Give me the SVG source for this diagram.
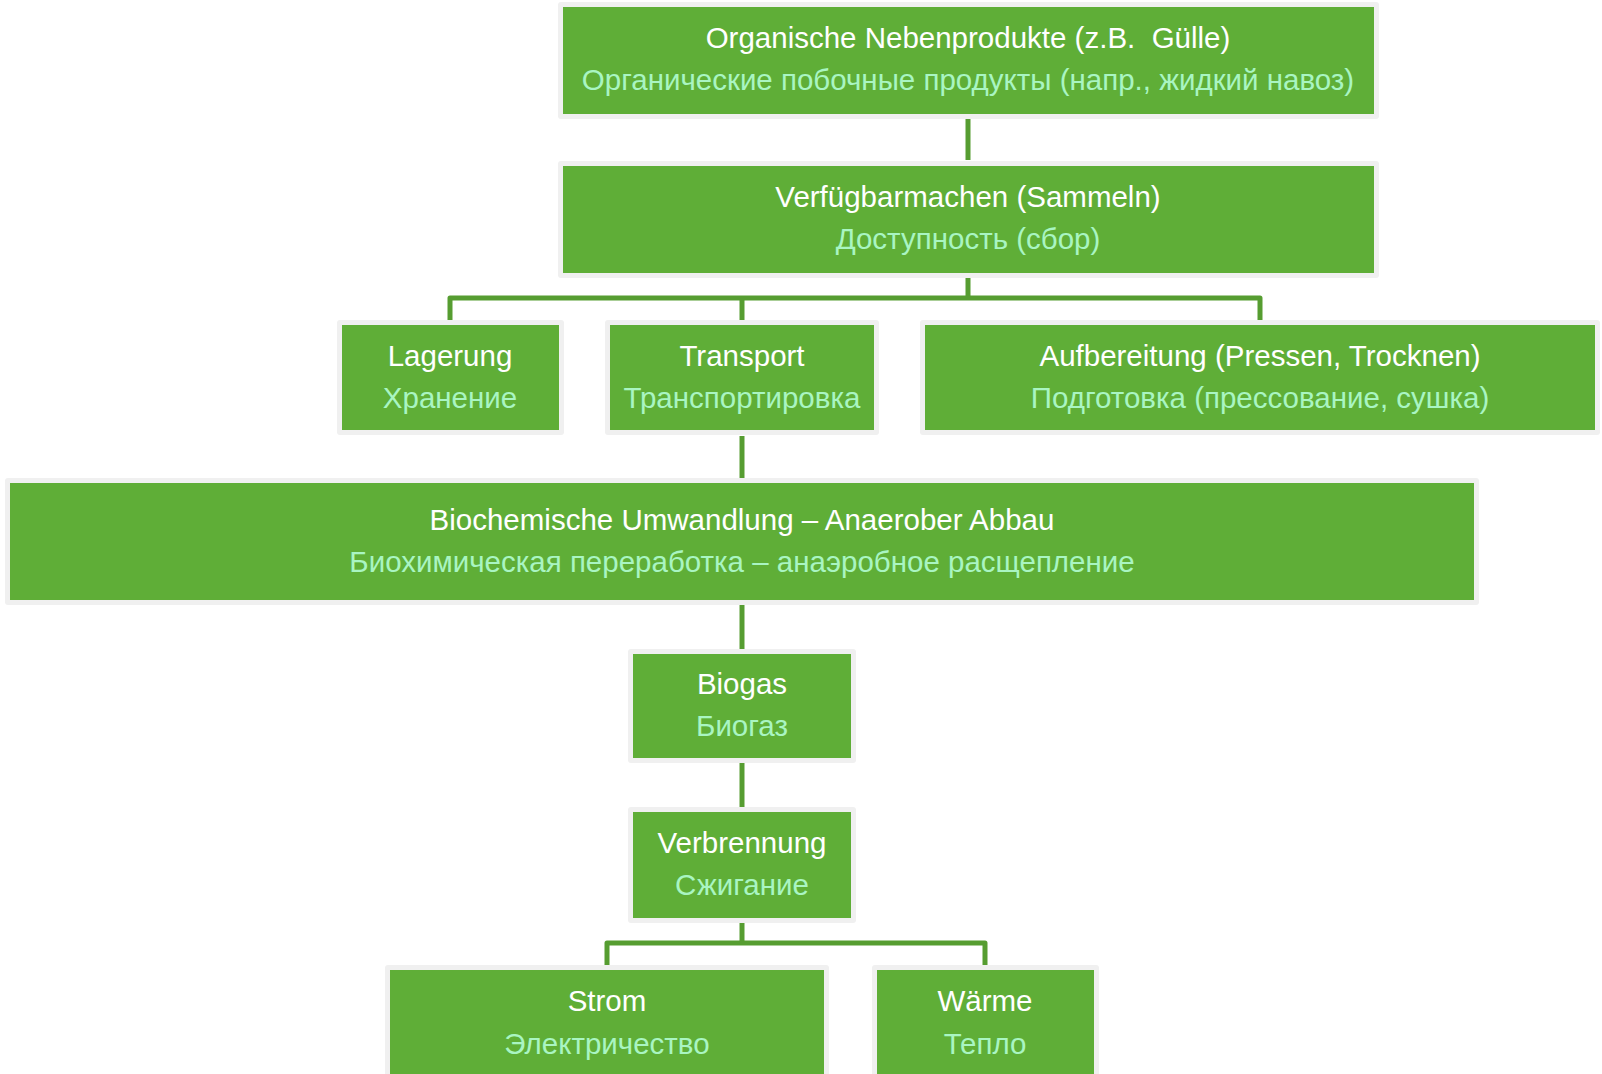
<svg xmlns="http://www.w3.org/2000/svg" width="1602" height="1074" viewBox="0 0 1602 1074">
<style>
.bg{fill:#f0f0f0}
.bx{fill:#5fae37}
.t1{font-family:"Liberation Sans",Arial,sans-serif;font-size:29.5px;fill:#ffffff;text-anchor:middle}
.t2{font-family:"Liberation Sans",Arial,sans-serif;font-size:29.5px;fill:#a9f5c2;text-anchor:middle}
.c{fill:none;stroke:#569d31;stroke-width:5;stroke-linejoin:round}
</style>
<rect width="1602" height="1074" fill="#ffffff"/>
<g id="connectors">
<path class="c" d="M968 118V160"/>
<path class="c" d="M968 278V298H450V320M742 298V320M968 298H1260V320"/>
<path class="c" d="M742 436V478"/>
<path class="c" d="M742 605V649"/>
<path class="c" d="M742 763V807"/>
<path class="c" d="M742 923V943H607V965M742 943H985V965"/>
</g>
<g id="n1"><rect class="bg" x="558" y="2" width="821" height="117" rx="3"/><rect class="bx" x="563" y="7" width="811" height="107"/><text class="t1" x="968" y="48" xml:space="preserve">Organische Nebenprodukte (z.B.  Gülle)</text><text class="t2" x="968" y="90">Органические побочные продукты (напр., жидкий навоз)</text></g>
<g id="n2"><rect class="bg" x="558" y="161" width="821" height="117" rx="3"/><rect class="bx" x="563" y="166" width="811" height="107"/><text class="t1" x="968" y="207">Verfügbarmachen (Sammeln)</text><text class="t2" x="968" y="249">Доступность (сбор)</text></g>
<g id="n3"><rect class="bg" x="337" y="320" width="227" height="115" rx="3"/><rect class="bx" x="342" y="325" width="217" height="105"/><text class="t1" x="450" y="366">Lagerung</text><text class="t2" x="450" y="408">Хранение</text></g>
<g id="n4"><rect class="bg" x="605" y="320" width="274" height="115" rx="3"/><rect class="bx" x="610" y="325" width="264" height="105"/><text class="t1" x="742" y="366">Transport</text><text class="t2" x="742" y="408">Транспортировка</text></g>
<g id="n5"><rect class="bg" x="920" y="320" width="680" height="115" rx="3"/><rect class="bx" x="925" y="325" width="670" height="105"/><text class="t1" x="1260" y="366">Aufbereitung (Pressen, Trocknen)</text><text class="t2" x="1260" y="408">Подготовка (прессование, сушка)</text></g>
<g id="n6"><rect class="bg" x="5" y="478" width="1474" height="127" rx="3"/><rect class="bx" x="10" y="483" width="1464" height="117"/><text class="t1" x="742" y="530">Biochemische Umwandlung – Anaerober Abbau</text><text class="t2" x="742" y="572">Биохимическая переработка – анаэробное расщепление</text></g>
<g id="n7"><rect class="bg" x="628" y="649" width="228" height="114" rx="3"/><rect class="bx" x="633" y="654" width="218" height="104"/><text class="t1" x="742" y="694">Biogas</text><text class="t2" x="742" y="736">Биогаз</text></g>
<g id="n8"><rect class="bg" x="628" y="807" width="228" height="116" rx="3"/><rect class="bx" x="633" y="812" width="218" height="106"/><text class="t1" x="742" y="853">Verbrennung</text><text class="t2" x="742" y="895">Сжигание</text></g>
<g id="n9"><rect class="bg" x="385" y="965" width="444" height="120" rx="3"/><rect class="bx" x="390" y="970" width="434" height="115"/><text class="t1" x="607" y="1011">Strom</text><text class="t2" x="607" y="1054">Электричество</text></g>
<g id="n10"><rect class="bg" x="872" y="965" width="227" height="120" rx="3"/><rect class="bx" x="877" y="970" width="217" height="115"/><text class="t1" x="985" y="1011">Wärme</text><text class="t2" x="985" y="1054">Тепло</text></g>
</svg>
